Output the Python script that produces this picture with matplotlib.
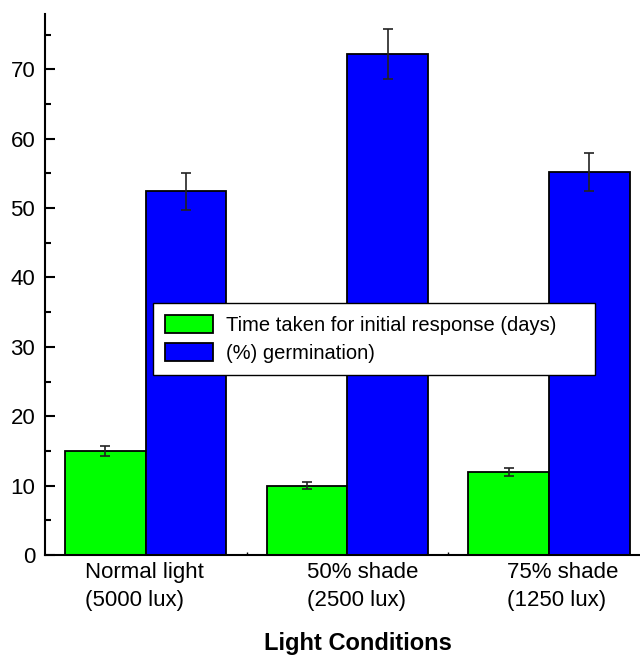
import numpy as np
import matplotlib
matplotlib.use("Agg")
import matplotlib.pyplot as plt

categories = ["Normal light\n(5000 lux)", "50% shade\n(2500 lux)", "75% shade\n(1250 lux)"]
time_days = [15.0, 10.0, 12.0]
time_err = [0.75, 0.45, 0.55]
germination = [52.4, 72.2, 55.2]
germ_err = [2.7, 3.6, 2.8]
series_names = ["Time taken for initial response (days)", "(%) germination)"]

plt.rcParams["font.family"] = ["Liberation Sans", "DejaVu Sans"]


def main():
    fig = plt.figure(figsize=(6.4, 6.56), dpi=100)
    ax = fig.add_axes([0.0703, 0.154, 0.93, 0.825])

    x = np.arange(1, len(categories) + 1)
    w = 0.4
    ekw = dict(elinewidth=1.2, capthick=1.2, ecolor="#222222")
    ax.bar(x - w / 2, time_days, w, yerr=time_err, color="#00ff00", edgecolor="black",
           linewidth=1.3, capsize=3.5, error_kw=ekw, label=series_names[0])
    ax.bar(x + w / 2, germination, w, yerr=germ_err, color="#0000ff", edgecolor="black",
           linewidth=1.3, capsize=3.5, error_kw=ekw, label=series_names[1])

    ax.set_xlim(0.5, 3.453)
    ax.set_ylim(0, 78)
    ax.spines["top"].set_visible(False)
    ax.spines["right"].set_visible(False)
    ax.spines["left"].set_linewidth(1.5)
    ax.spines["bottom"].set_linewidth(1.5)

    ax.set_yticks(np.arange(0, 71, 10))
    ax.set_yticks(np.arange(5, 76, 10), minor=True)
    ax.tick_params(axis="y", which="major", direction="in", length=7, width=1.5,
                   labelsize=16, pad=7)
    ax.tick_params(axis="y", which="minor", direction="in", length=4, width=1.5)

    ax.set_xticks([])
    ax.set_xticks([1.5, 2.5], minor=True)
    ax.tick_params(axis="x", which="minor", direction="in", length=2, width=1)

    # category labels, left aligned and shifted like the original
    label_x = [0.697, 1.80, 2.79]
    for lx, lab in zip(label_x, categories):
        ax.text(lx, -1.0, lab, ha="left", va="top", fontsize=16, linespacing=1.45)

    ax.set_xlabel("Light Conditions", fontsize=17, fontweight="bold")
    ax.xaxis.set_label_coords(0.525, -0.142)

    leg = ax.legend(loc="upper left", bbox_to_anchor=(0.1815, 0.3, 0.743, 0.166),
                    mode="expand", borderaxespad=0,
                    fontsize=14.5, frameon=True, fancybox=False, edgecolor="black",
                    framealpha=1, handlelength=2.4, handleheight=1.0, borderpad=0.6,
                    labelspacing=0.4, handletextpad=0.6)
    leg.get_frame().set_linewidth(1)

    fig.savefig("out.png", dpi=100)
    plt.close(fig)


if __name__ == "__main__":
    main()
